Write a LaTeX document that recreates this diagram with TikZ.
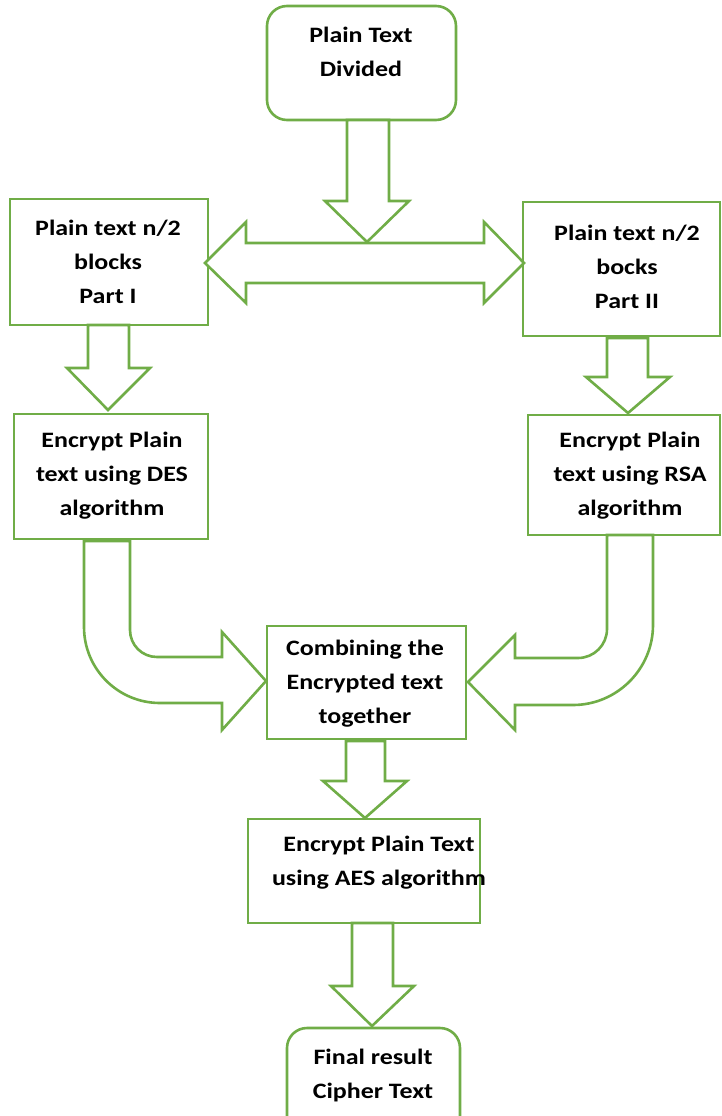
\documentclass[tikz,border=0pt]{standalone}
\usepackage{fontspec}
\setmainfont{Carlito}[FakeStretch=1.18]
\definecolor{flowgreen}{HTML}{70AD47}
\tikzset{
  box/.style={draw=flowgreen, line width=2.6pt, fill=white, inner sep=0pt},
  roundbox/.style={box, rounded corners=20pt},
  blockarrow/.style={draw=flowgreen, line width=2.6pt, line join=miter, fill=white},
  lbl/.style={align=center, inner sep=0pt, anchor=base,
    font=\fontsize{22}{34}\selectfont\bfseries},
}
\begin{document}
\begin{tikzpicture}[x=1pt,y=-1pt]
\useasboundingbox (0,0) rectangle (722,1116);
\begin{scope}
\clip (0,0) rectangle (722,1116);

% boxes
\draw[roundbox] (267,6) rectangle (456,120);
\draw[box] (10,199) rectangle (208,325);
\draw[box] (523,202) rectangle (720,336);
\draw[box] (14,414) rectangle (208,539);
\draw[box] (528,415) rectangle (720,535);
\draw[box] (267,626) rectangle (466,739);
\draw[box] (248,819) rectangle (480,923);
\draw[roundbox] (287,1028) rectangle (460,1140);

% block arrow: top box down to the split arrow
\draw[blockarrow] (347,120) -- (347,201) -- (325,201) -- (367,242)
  -- (409,201) -- (389,201) -- (389,120) -- cycle;

% two-headed split arrow
\draw[blockarrow] (205,263) -- (246,222) -- (246,243) -- (484,243)
  -- (484,222) -- (524,263) -- (484,303) -- (484,283) -- (246,283)
  -- (246,303) -- cycle;

% Part I -> DES
\draw[blockarrow] (88,325) -- (88,368) -- (67,368) -- (108,410)
  -- (150,368) -- (129,368) -- (129,325) -- cycle;
% Part II -> RSA
\draw[blockarrow] (607,338) -- (607,377) -- (586,377) -- (628,413)
  -- (670,377) -- (648,377) -- (648,338) -- cycle;

% DES -> combining (bent)
\draw[blockarrow] (84,541) -- (84,627)
  .. controls (84,669) and (118,703) .. (160,703)
  -- (222,703) -- (222,730) -- (266,681) -- (222,632) -- (222,657)
  -- (157,657) .. controls (142,657) and (130,645) .. (130,630)
  -- (130,541) -- cycle;

% RSA -> combining (bent)
\draw[blockarrow] (653,535) -- (653,625)
  .. controls (653,669) and (617,705) .. (573,705)
  -- (515,705) -- (515,730) -- (468,682) -- (515,635) -- (515,658)
  -- (578,658) .. controls (594,658) and (607,645) .. (607,629)
  -- (607,535) -- cycle;

% combining -> AES
\draw[blockarrow] (346,741) -- (346,781) -- (323,781) -- (365,818)
  -- (407,781) -- (385,781) -- (385,741) -- cycle;

% AES -> final
\draw[blockarrow] (352,923) -- (352,986) -- (331,986) -- (372,1026)
  -- (414,986) -- (393,986) -- (393,923) -- cycle;

% labels (anchored at the baseline of the last line)
\node[lbl] (t1) at (361,77) {Plain Text\\Divided};
\node[lbl] (t2) at (108,303) {Plain text n/2\\blocks\\Part I};
\node[lbl] (t3) at (627,308) {Plain text n/2\\bocks\\Part II};
\node[lbl] (t4) at (112,515) {Encrypt Plain\\text using DES\\algorithm};
\node[lbl] (t5) at (630,515) {Encrypt Plain\\text using RSA\\algorithm};
\node[lbl] (t6) at (365,723) {Combining the\\Encrypted text\\together};
\node[lbl] (t7) at (379,885) {Encrypt Plain Text\\using AES algorithm};
\node[lbl] (t8) at (373,1098) {Final result\\Cipher Text};
\end{scope}
\end{tikzpicture}
\end{document}
